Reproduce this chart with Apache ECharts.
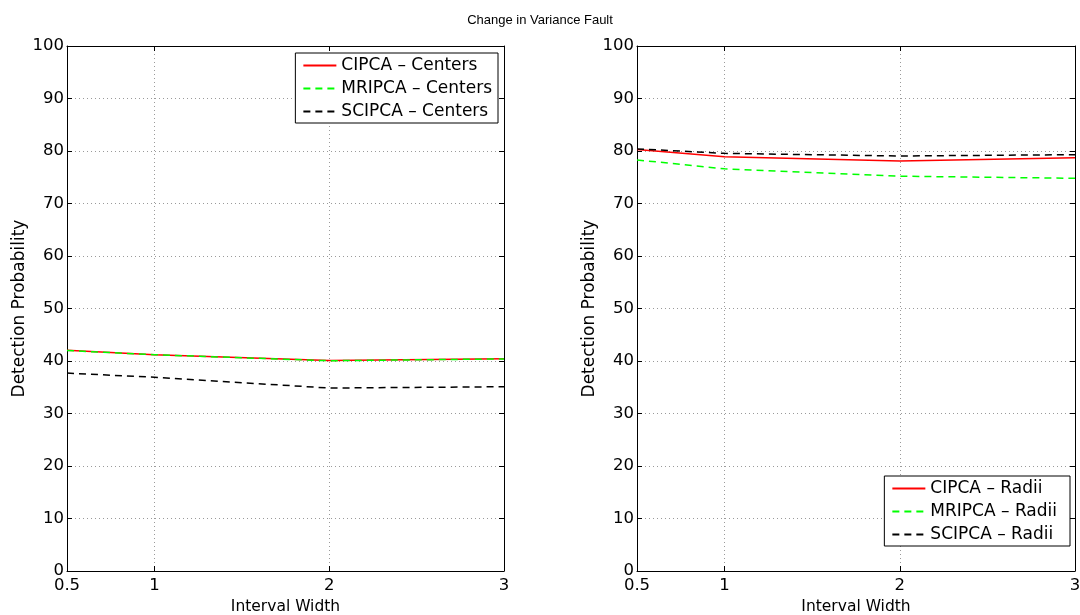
<!DOCTYPE html>
<html>
<head>
<meta charset="utf-8">
<script src="https://cdn.jsdelivr.net/npm/echarts@6/dist/echarts.min.js"></script>
<style>
  html, body { margin: 0; padding: 0; background: #fff; }
  #chart { width: 1080px; height: 615px; }
</style>
</head>
<body>
<div id="chart"></div>
<script>
// Datos
const intervalWidths = [0.5, 1, 2, 3];
const xTicks = [0.5, 1, 2, 3];

const cipcaCenters = [42.05, 41.2, 40.1, 40.45];
const mripcaCenters = [42.0, 41.2, 40.05, 40.4];
const scipcaCenters = [37.7, 36.9, 34.85, 35.1];

const cipcaRadii = [80.3, 78.9, 78.1, 78.7];
const mripcaRadii = [78.3, 76.6, 75.2, 74.8];
const scipcaRadii = [80.4, 79.55, 79.05, 79.3];

const fuente = 'DejaVu Sans, Verdana, sans-serif';

function puntos(valores) {
    return intervalWidths.map((x, i) => [x, valores[i]]);
}

function ejeX(gridIndex, abajo) {
    return {
        type: 'value', gridIndex: gridIndex, min: 0.5, max: 3,
        position: abajo ? 'bottom' : 'top',
        name: abajo ? 'Interval Width' : '',
        nameLocation: 'middle', nameGap: 26,
        nameTextStyle: { color: '#000', fontSize: 15.5, fontFamily: fuente },
        axisLine: { show: true, onZero: false, lineStyle: { color: '#000', width: 1 } },
        axisTick: { show: true, inside: true, length: 5, customValues: xTicks, lineStyle: { color: '#000' } },
        axisLabel: { show: abajo, customValues: xTicks, color: '#000', fontSize: 16.5, fontFamily: fuente, margin: 6,
                     formatter: v => String(v) },
        splitLine: { show: abajo, lineStyle: { color: '#9a9a9a', type: [1, 3], width: 1 } }
    };
}

function ejeY(gridIndex, izquierda) {
    return {
        type: 'value', gridIndex: gridIndex, min: 0, max: 100, interval: 10,
        position: izquierda ? 'left' : 'right',
        name: izquierda ? 'Detection Probability' : '',
        nameLocation: 'middle', nameGap: 39, nameRotate: 90,
        nameTextStyle: { color: '#000', fontSize: 17, fontFamily: fuente },
        axisLine: { show: true, onZero: false, lineStyle: { color: '#000', width: 1 } },
        axisTick: { show: true, inside: true, length: 5, lineStyle: { color: '#000' } },
        axisLabel: { show: izquierda, color: '#000', fontSize: 16.5, fontFamily: fuente, margin: 3 },
        splitLine: { show: izquierda, lineStyle: { color: '#9a9a9a', type: [1, 3], width: 1 } }
    };
}

function serie(nombre, valores, color, discontinua, eje) {
    return {
        name: nombre, type: 'line', xAxisIndex: eje, yAxisIndex: eje,
        data: puntos(valores), symbol: 'none', silent: true,
        lineStyle: { color: color, width: 1.5, type: discontinua ? [7, 5] : 'solid' },
        itemStyle: { color: color }
    };
}

function leyenda(nombres, pos) {
    return Object.assign({
        data: nombres, orient: 'vertical', align: 'left',
        backgroundColor: '#fff', borderColor: '#000', borderWidth: 1,
        padding: [4, 6, 3, 7], itemGap: 6, itemWidth: 33, itemHeight: 17,
        itemStyle: { opacity: 0 },
        textStyle: { color: '#000', fontSize: 17, lineHeight: 17, fontFamily: fuente }
    }, pos);
}

const grafico = echarts.init(document.getElementById('chart'), null, { renderer: 'canvas' });
grafico.setOption({
    animation: false,
    backgroundColor: '#fff',
    title: {
        text: 'Change in Variance Fault', left: 'center', top: 9,
        textStyle: { color: '#000', fontSize: 13, fontWeight: 'normal', fontFamily: 'Liberation Sans, Arial, sans-serif' }
    },
    grid: [
        { left: 67, top: 46, width: 437, height: 525, outerBoundsMode: 'none' },
        { left: 637, top: 46, width: 438, height: 525, outerBoundsMode: 'none' }
    ],
    xAxis: [ejeX(0, true), ejeX(1, true), ejeX(0, false), ejeX(1, false)],
    yAxis: [ejeY(0, true), ejeY(1, true), ejeY(0, false), ejeY(1, false)],
    legend: [
        leyenda(['CIPCA \u2013 Centers', 'MRIPCA \u2013 Centers', 'SCIPCA \u2013 Centers'], { right: 582, top: 53 }),
        leyenda(['CIPCA \u2013 Radii', 'MRIPCA \u2013 Radii', 'SCIPCA \u2013 Radii'],
                { right: 10, bottom: 69, padding: [4, 13, 3, 7] })
    ],
    series: [
        serie('CIPCA \u2013 Centers', cipcaCenters, '#ff0000', false, 0),
        serie('MRIPCA \u2013 Centers', mripcaCenters, '#00ff00', true, 0),
        serie('SCIPCA \u2013 Centers', scipcaCenters, '#000000', true, 0),
        serie('CIPCA \u2013 Radii', cipcaRadii, '#ff0000', false, 1),
        serie('MRIPCA \u2013 Radii', mripcaRadii, '#00ff00', true, 1),
        serie('SCIPCA \u2013 Radii', scipcaRadii, '#000000', true, 1)
    ]
});
</script>
</body>
</html>
